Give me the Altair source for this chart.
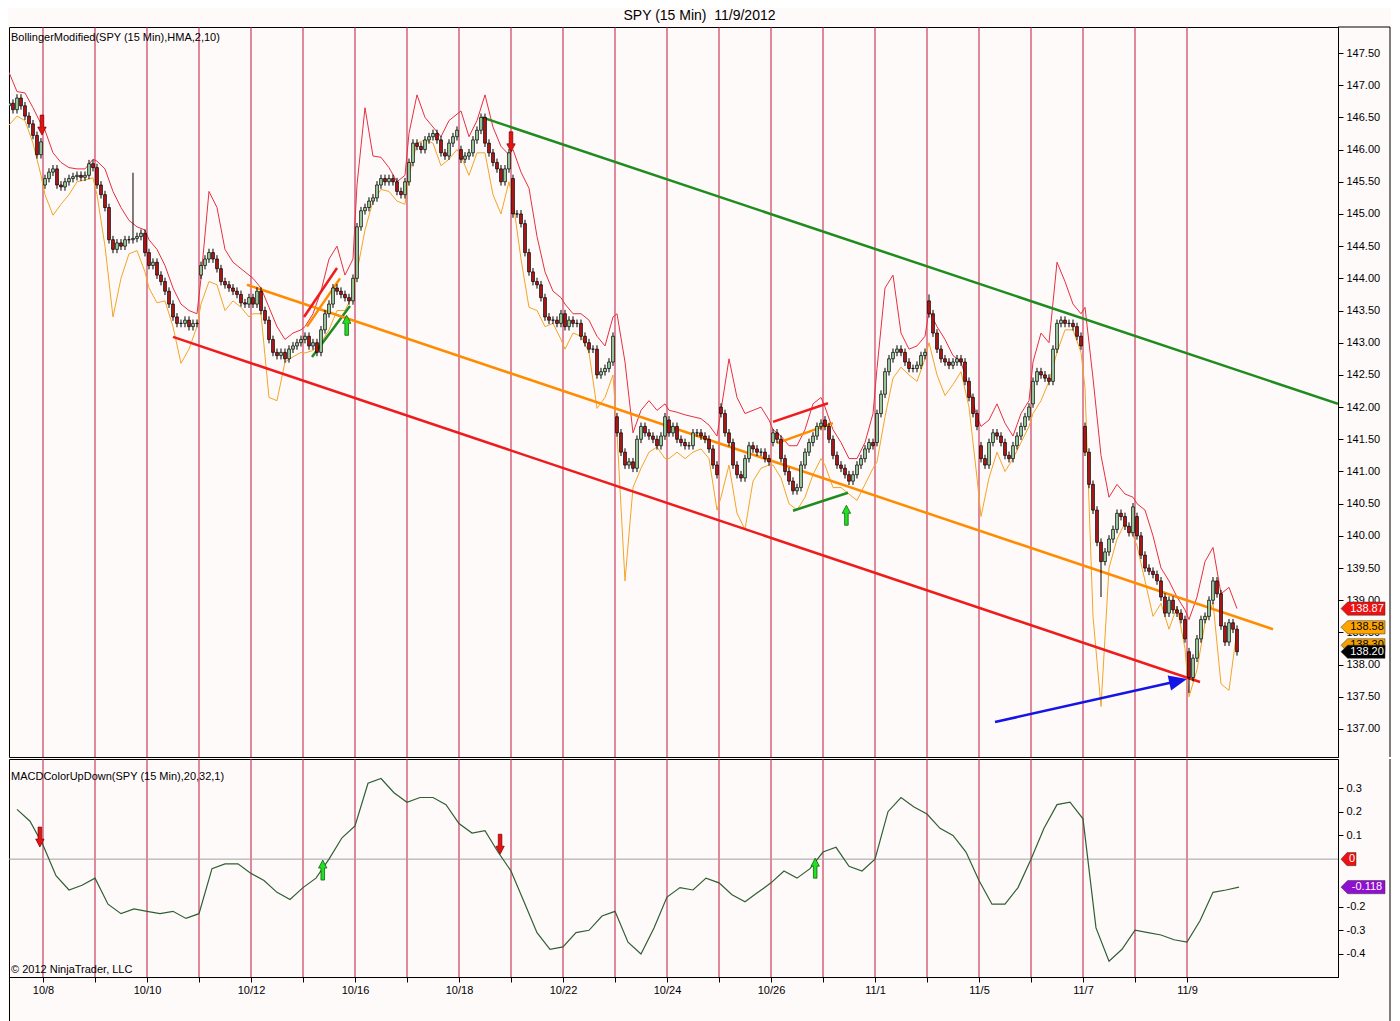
import altair as alt
import pandas as pd

FONT = "Liberation Sans"
BG = "#fffafa"
DAYLINE = "#c0183c"

# ---------------- data ----------------
days = ["10/8", "10/9", "10/10", "10/11", "10/12", "10/15", "10/16", "10/17", "10/18", "10/19",
        "10/22", "10/23", "10/24", "10/25", "10/26", "10/31", "11/1", "11/2", "11/5", "11/6",
        "11/7", "11/8", "11/9"]

# open of the first 30-min candle of each session (10/5 partial session first)
session_open = [146.68, 145.45, 145.72, 144.4, 144.05, 143.7, 143.05, 144.0, 145.5, 146.0,
                145.55, 143.45, 141.85, 141.8, 142.0, 141.45, 141.8, 141.45, 143.65, 141.4,
                142.05, 141.7, 140.3, 138.2]

# closes, 13 per session (10/5 partial: 9)
close_w1 = [146.72, 146.62, 146.80, 146.68, 146.52, 146.40, 146.22, 145.92, 146.12,
            145.55, 145.65, 145.7, 145.45, 145.42, 145.5, 145.55, 145.58, 145.6, 145.57, 145.6, 145.78, 145.72,
            145.45, 145.3, 145.1, 144.6, 144.45, 144.55, 144.5, 144.6, 144.6, 144.62, 144.65, 144.7, 144.4,
            144.2, 144.25, 144.05, 143.95, 143.8, 143.6, 143.4, 143.3, 143.3, 143.35, 143.25, 143.3, 143.3,
            144.2, 144.3, 144.4, 144.3, 144.15, 143.95, 143.9, 143.85, 143.8, 143.75, 143.62, 143.6, 143.7,
            143.6, 143.8, 143.5, 143.35, 143.05, 142.85, 142.8, 142.85, 142.75, 142.9, 142.95, 143.0, 143.05]
close_w2 = [143.1, 142.95, 143.0, 142.85, 143.2, 143.45, 143.6, 143.85, 143.8, 143.75, 143.7, 143.65, 144.0,
            144.8, 145.05, 145.1, 145.2, 145.25, 145.45, 145.55, 145.5, 145.55, 145.5, 145.35, 145.3, 145.5,
            145.8, 146.1, 146.05, 146.0, 146.15, 146.2, 146.25, 146.15, 145.95, 145.9, 146.1, 146.2, 146.3,
            145.85, 145.9, 145.95, 146.15, 146.3, 146.5, 146.1, 145.95, 145.8, 145.7, 145.5, 145.7, 145.95,
            145.0, 145.0, 144.85, 144.4, 144.1, 143.95, 143.9, 143.7, 143.4, 143.35, 143.35, 143.3, 143.45]
close_w3 = [143.25, 143.35, 143.3, 143.3, 143.1, 143.0, 142.9, 142.9, 142.5, 142.55, 142.6, 142.7, 143.1,
            141.6, 141.3, 141.1, 141.15, 141.05, 141.5, 141.7, 141.6, 141.55, 141.5, 141.4, 141.55, 141.85,
            141.6, 141.7, 141.5, 141.45, 141.4, 141.4, 141.6, 141.6, 141.55, 141.5, 141.35, 141.1, 140.95,
            141.9, 141.6, 141.45, 141.1, 140.95, 140.9, 141.2, 141.4, 141.35, 141.3, 141.3, 141.2, 141.15,
            141.6, 141.5, 141.2, 141.0, 140.85, 140.7, 140.75, 141.1, 141.3, 141.45, 141.55, 141.7, 141.75]
close_w4 = [141.7, 141.5, 141.25, 141.1, 141.05, 140.95, 140.85, 140.95, 141.1, 141.2, 141.35, 141.45, 141.4,
            141.9, 142.2, 142.55, 142.75, 142.85, 142.9, 142.85, 142.7, 142.6, 142.6, 142.65, 142.8, 142.85,
            143.45, 143.15, 142.9, 142.75, 142.7, 142.65, 142.7, 142.75, 142.7, 142.4, 142.15, 141.9, 141.7]
close_w5 = [141.2, 141.1, 141.45, 141.6, 141.55, 141.45, 141.25, 141.2, 141.4, 141.55, 141.7, 141.85, 142.0,
            142.4, 142.55, 142.5, 142.45, 142.4, 142.9, 143.3, 143.35, 143.3, 143.3, 143.25, 143.1, 142.95,
            141.3, 140.8, 140.4, 139.9, 139.6, 139.75, 139.95, 140.1, 140.35, 140.3, 140.15, 140.05, 140.45,
            140.0, 139.7, 139.5, 139.45, 139.4, 139.3, 139.05, 138.8, 139.0, 138.85, 138.8, 138.7, 138.4,
            137.8, 138.1, 138.4, 138.7, 138.75, 139.0, 139.3, 139.1, 138.6, 138.35, 138.65, 138.55, 138.2]

# long wicks: (session, candle) -> price
wick_high = {("10/9", 9): 145.64, ("11/2", 0): 143.75}
wick_low = {("11/7", 4): 139.05, ("11/9", 0): 137.56}

# Bollinger bands, every second candle
upper_band = [147.2, 146.9, 146.88, 146.65, 146.4,
              146.3, 145.95, 145.8, 145.72, 145.7, 145.7, 145.85,
              145.82, 145.7, 145.35, 145.1, 144.9, 144.8, 144.75,
              144.6, 144.45, 144.2, 143.85, 143.6, 143.5, 143.45,
              144.0, 145.35, 145.1, 144.45, 144.25, 144.15, 144.05,
              144.0, 143.85, 143.55, 143.25, 143.05, 143.15, 143.2,
              143.25, 143.45, 143.8, 144.3, 144.5, 144.05, 144.3,
              145.45, 146.65, 145.9, 145.88, 145.72, 145.5, 145.6,
              146.25, 146.85, 146.5, 146.35, 146.2, 146.45, 146.55,
              146.6, 146.2, 146.45, 146.85, 146.35, 146.05, 145.92,
              146.0, 145.65, 145.4, 144.65, 144.1, 143.8, 143.7,
              143.6, 143.45, 143.45, 143.35, 143.1, 142.95, 143.4,
              143.45, 142.7, 141.6, 141.95, 142.1, 141.95, 142.05,
              141.95, 141.92, 141.88, 141.85, 141.82, 141.72, 141.55,
              141.95, 142.75, 142.15, 141.9, 141.95, 142.0, 141.8,
              141.65, 141.55, 141.4, 141.4, 141.65, 142.05, 142.15,
              142.0, 141.65, 141.45, 141.2, 141.2, 141.45, 141.9,
              142.6, 143.85, 144.05, 143.15, 142.9, 142.95, 143.1,
              143.5, 143.25, 143.05, 142.8, 142.7, 142.3, 141.85,
              141.7, 141.8, 142.05, 141.75, 141.55, 141.9, 142.1,
              142.7, 143.15, 143.0, 144.25, 143.95, 143.6, 143.45,
              143.55, 142.45, 141.25, 140.6, 140.8, 140.65, 140.6,
              140.5, 140.4, 140.0, 139.5, 139.3, 139.05, 138.85,
              138.7, 139.05, 139.6, 139.82, 139.1, 139.2, 138.87]
lower_band = [146.38, 146.52, 146.45, 146.1, 145.6,
              145.3, 144.98, 145.15, 145.3, 145.5, 145.53, 145.56,
              145.3, 144.5, 143.4, 144.0, 144.38, 144.43, 144.1,
              143.85, 143.62, 143.65, 143.25, 142.68, 142.9, 143.25,
              143.6, 143.95, 143.9, 143.5, 143.65, 143.55, 143.4,
              143.45, 143.45, 142.15, 142.1, 142.7, 142.78, 142.85,
              142.84, 142.88, 143.0, 143.2, 143.5, 143.5, 143.75,
              144.1, 144.75, 145.2, 145.38, 145.35, 145.2, 145.15,
              145.6, 146.1, 146.15, 146.1, 145.75, 145.85, 146.0,
              145.9, 145.6, 145.95, 145.95, 145.3, 145.0, 145.5,
              145.2, 144.3, 143.55, 143.5, 143.25, 143.3, 143.05,
              142.9, 143.15, 143.1, 142.85, 141.98, 142.15, 142.5,
              141.6, 139.3, 140.75, 141.05, 141.3, 141.38, 141.2,
              141.2, 141.3, 141.2, 141.3, 141.35, 141.2, 140.4,
              140.6, 141.1, 140.35, 140.1, 140.85, 141.05, 141.1,
              141.1, 140.9, 140.5, 140.4, 140.6, 140.95, 141.2,
              141.1, 140.75, 140.75, 140.65, 140.55, 140.8, 141.05,
              141.15, 141.85, 142.45, 142.62, 142.5, 142.4, 142.75,
              143.0, 142.5, 142.18, 142.35, 142.55, 142.0, 140.9,
              140.3, 140.9, 141.3, 141.0, 141.2, 141.45, 141.7,
              141.9, 142.1, 142.4, 142.85, 143.2, 143.2, 142.85,
              142.3, 138.75, 137.35, 139.5, 139.95, 140.2, 140.0,
              139.85, 139.3, 138.75, 138.95, 138.55, 138.9, 138.25,
              137.5, 137.92, 138.65, 138.96, 137.7, 137.6, 138.55]

# MACD, every quarter session starting half a session before 10/8
macd = [0.21, 0.16, 0.06, -0.07, -0.13, -0.11, -0.08, -0.19, -0.23, -0.21,
        -0.22, -0.23, -0.22, -0.25, -0.23, -0.04, -0.02, -0.02, -0.06, -0.09,
        -0.14, -0.17, -0.12, -0.08, 0.0, 0.09, 0.14, 0.32, 0.34, 0.28,
        0.24, 0.26, 0.26, 0.23, 0.15, 0.11, 0.12, 0.03, -0.05, -0.18,
        -0.31, -0.38, -0.37, -0.31, -0.30, -0.24, -0.22, -0.35, -0.40, -0.29,
        -0.16, -0.12, -0.13, -0.08, -0.10, -0.15, -0.18, -0.14, -0.10, -0.05,
        -0.08, -0.04, 0.03, 0.05, -0.03, -0.05, 0.0, 0.20, 0.26, 0.22,
        0.19, 0.13, 0.10, 0.03, -0.09, -0.19, -0.19, -0.12, 0.0, 0.13,
        0.23, 0.24, 0.17, -0.29, -0.43, -0.38, -0.30, -0.31, -0.32, -0.34,
        -0.35, -0.26, -0.14, -0.13, -0.118]

# drawn trend lines (session units, price)
trend_color = ["green", "orange", "red", "blue", "red", "orange", "green", "red", "orange", "green"]
trend_x0 = [8.442, 3.923, 2.5, 18.308, 5.019, 5.077, 5.173, 14.038, 14.115, 14.423]
trend_y0 = [146.5, 143.9, 143.09, 137.108, 143.4, 143.25, 142.78, 141.77, 141.44, 140.39]
trend_x1 = [24.904, 23.654, 22.25, 21.83, 5.654, 5.712, 5.904, 15.096, 15.192, 15.481]
trend_y1 = [142.05, 138.55, 137.73, 137.745, 144.16, 144.0, 143.57, 142.06, 141.75, 140.67]
arrowhead_x = [21.83]
arrowhead_y = [137.745]

# signal arrows
sig_day = [-0.02, 9.0, 5.84, 15.45]
sig_price = [146.38, 146.12, 143.27, 140.32]
sig_kind = ["sell", "sell", "buy", "buy"]
msig_day = [-0.06, 8.79, 5.38, 14.85]
msig_val = [0.093, 0.063, -0.046, -0.038]
msig_kind = ["sell", "sell", "buy", "buy"]

# right-axis value tags
tag_value = [138.87, 138.58, 138.30, 138.20]
tag_label = ["138.87", "138.58", "138.30", "138.20"]
tag_kind = ["upper", "lower", "mid", "last"]
mtag_value = [0.0, -0.118]
mtag_label = ["0", "-0.118"]
mtag_kind = ["zero", "macd"]

# ---------------- build tables ----------------
HW = 0.36 / 13
labels_s = ["10/5"] + days
sessions = [(-1, list(range(4, 13)))] + [(d, list(range(13))) for d in range(len(days))]
closes = close_w1 + close_w2 + close_w3 + close_w4 + close_w5
rows, bpos = [], []
i = 0
for s, (d, ks) in enumerate(sessions):
    for j, k in enumerate(ks):
        t = d + (k + 0.5) / 13
        c = closes[i]
        o = session_open[s] if j == 0 else closes[i - 1]
        hi = max(o, c) + 0.06
        lo = min(o, c) - 0.06
        hi = wick_high.get((labels_s[s], k), hi)
        lo = wick_low.get((labels_s[s], k), lo)
        rows.append(dict(t=t, xa=t - HW, xb=t + HW, o=o, c=c, hi=hi, lo=lo,
                         dir="up" if c >= o else "down"))
        if k % 2 == 0:
            bpos.append(t)
        i += 1
candles = pd.DataFrame(rows)
bands = pd.DataFrame({"t": bpos * 2, "v": upper_band + lower_band,
                      "band": ["upper"] * len(bpos) + ["lower"] * len(bpos)})
macd_df = pd.DataFrame({"t": [-0.5 + 0.25 * n for n in range(len(macd))], "v": macd})
dayline_df = pd.DataFrame({"t": list(range(len(days)))})
trend_df = pd.DataFrame({"c": trend_color, "x0": trend_x0, "y0": trend_y0, "x1": trend_x1, "y1": trend_y1})
head_df = pd.DataFrame({"t": arrowhead_x, "v": arrowhead_y})
sig_df = pd.DataFrame({"t": sig_day, "v": sig_price, "k": sig_kind})
msig_df = pd.DataFrame({"t": msig_day, "v": msig_val, "k": msig_kind})
tag_df = pd.DataFrame({"v": tag_value, "label": tag_label, "k": tag_kind})
mtag_df = pd.DataFrame({"v": mtag_value, "label": mtag_label, "k": mtag_kind})

# ---------------- scales / axes ----------------
W, HP, HM = 1329, 730, 218
RX = W + 52          # outer right frame line
xs = alt.Scale(domain=[-0.6538, 24.9038], nice=False, zero=False)
ys = alt.Scale(domain=[136.565, 147.904], nice=False, zero=False)
ms = alt.Scale(domain=[-0.497, 0.4223], nice=False, zero=False)

axis_common = dict(title=None, grid=False, tickSize=5, tickColor="black", domainColor="black",
                   labelColor="black", labelFont=FONT, labelFontSize=11, labelOverlap=False,
                   labelFlush=False, labelBound=False, zindex=0)
price_axis = alt.Axis(orient="right", values=[137 + 0.5 * n for n in range(22)], format=".2f",
                      labelPadding=3, **axis_common)
macd_axis = alt.Axis(orient="right", values=[0.3, 0.2, 0.1, -0.2, -0.3, -0.4],
                     labelExpr="replace(format(datum.value, '.1f'), '\u2212', '-')",
                     labelPadding=3, **axis_common)
xlab = [d if n % 2 == 0 else "" for n, d in enumerate(days)]
x_axis = alt.Axis(values=list(range(len(days))), labelPadding=2,
                  labelExpr="[" + ",".join("'%s'" % s for s in xlab) + "][datum.value]",
                  **axis_common)


def XP(f):
    return alt.X(f, type="quantitative", scale=xs, axis=None)


def XM(f):
    return alt.X(f, type="quantitative", scale=xs, axis=x_axis)


def YP(f):
    return alt.Y(f, type="quantitative", scale=ys, axis=price_axis)


def YM(f):
    return alt.Y(f, type="quantitative", scale=ms, axis=macd_axis)


DOWN = "M -0.18 -1 L 0.18 -1 L 0.18 0.2 L 0.42 0.2 L 0 1 L -0.42 0.2 L -0.18 0.2 Z"
UP = "M -0.18 1 L 0.18 1 L 0.18 -0.2 L 0.42 -0.2 L 0 -1 L -0.42 -0.2 L -0.18 -0.2 Z"
TAG = "M -1 0 L -0.7 -0.3 L 1 -0.3 L 1 0.3 L -0.7 0.3 Z"
ZTAG = "M -1 0 L -0.2 -0.87 L 1 -0.87 L 1 0.87 L -0.2 0.87 Z"
HEAD = "M 1 0 L -1 -0.85 L -1 0.85 Z"

TAG_KINDS = ["upper", "lower", "mid", "last", "zero", "macd"]
TAG_FILLS = ["#ee1111", "#ffa500", "#f5a000", "#000000", "#ee1111", "#9010d0"]
TAG_TEXTS = ["white", "black", "black", "white", "white", "white"]


def sig_layer(df, Xf, Yf):
    layers = []
    for kind, shape, fill, stroke in [("sell", DOWN, "#e81212", "#700000"), ("buy", UP, "#22e022", "#005000")]:
        layers.append(alt.Chart(df).transform_filter("datum.k == '%s'" % kind).mark_point(
            shape=shape, filled=True, size=400, fill=fill, stroke=stroke, strokeWidth=0.7, opacity=1
        ).encode(x=Xf("t"), y=Yf("v")))
    return layers


def tag_layers(df, Yf, kind, shape, size, xc, xt):
    idx = TAG_KINDS.index(kind)
    base = alt.Chart(df).transform_filter("datum.k == '%s'" % kind)
    return [base.mark_point(shape=shape, filled=True, size=size, fill=TAG_FILLS[idx], stroke="#333333",
                            strokeWidth=0.5, opacity=1).encode(x=alt.value(xc), y=Yf("v")),
            base.mark_text(font=FONT, fontSize=11, align="center", baseline="middle",
                           color=TAG_TEXTS[idx]).encode(x=alt.value(xt), y=Yf("v"), text="label:N")]


one = alt.Data(values=[{}])

# ---------------- price panel ----------------
p_days = alt.Chart(dayline_df).mark_rule(color=DAYLINE, strokeWidth=1).encode(x=XP("t"))
p_up = alt.Chart(bands).transform_filter("datum.band == 'upper'").mark_line(
    strokeWidth=1, color="#e43040", clip=True).encode(x=XP("t"), y=YP("v"))
p_lo = alt.Chart(bands).transform_filter("datum.band == 'lower'").mark_line(
    strokeWidth=1, color="#f2a526", clip=True).encode(x=XP("t"), y=YP("v"))
p_wick = alt.Chart(candles).mark_rule(color="black", strokeWidth=1, clip=True).encode(
    x=XP("t"), y=YP("lo"), y2="hi")
p_body_up = alt.Chart(candles).transform_filter("datum.dir == 'up'").mark_rect(
    stroke="black", strokeWidth=0.7, fill="#9ccc9c", clip=True).encode(x=XP("xa"), x2="xb", y=YP("o"), y2="c")
p_body_dn = alt.Chart(candles).transform_filter("datum.dir == 'down'").mark_rect(
    stroke="black", strokeWidth=0.7, fill="#b01616", clip=True).encode(x=XP("xa"), x2="xb", y=YP("o"), y2="c")
TREND = {"green": "#1e8c1e", "orange": "#ff8c00", "red": "#ee1c1c", "blue": "#1414e6"}
p_trends = [alt.Chart(trend_df).transform_filter("datum.c == '%s'" % name).mark_rule(
    strokeWidth=2.5, color=col, clip=True).encode(x=XP("x0"), x2="x1", y=YP("y0"), y2="y1")
    for name, col in TREND.items()]
p_head = alt.Chart(head_df).mark_point(shape=HEAD, filled=True, size=324, angle=347.4, color="#1414e6",
                                       opacity=1).encode(x=XP("t"), y=YP("v"))
p_title = alt.Chart(alt.Data(values=[{"s": "BollingerModified(SPY (15 Min),HMA,2,10)"}])).mark_text(
    align="left", baseline="middle", font=FONT, fontSize=11, color="black").encode(
    x=alt.value(2), y=alt.value(11), text="s:N")
p_tags = (tag_layers(tag_df, YP, "upper", TAG, 1936, 1354, 1358)
          + tag_layers(tag_df, YP, "lower", TAG, 1936, 1354, 1358)
          + tag_layers(tag_df, YP, "mid", TAG, 1936, 1354, 1358)
          + tag_layers(tag_df, YP, "last", TAG, 1936, 1354, 1358))
p_frame_top = alt.Chart(one).mark_rule(color="black", strokeWidth=1).encode(
    x=alt.value(W), x2=alt.value(RX), y=alt.value(0))
p_frame_right = alt.Chart(one).mark_rule(color="black", strokeWidth=1).encode(
    x=alt.value(RX), y=alt.value(0), y2=alt.value(HP))

price = alt.layer(p_days, p_up, p_lo, *p_trends, p_wick, p_body_up, p_body_dn, p_head,
                  *sig_layer(sig_df, XP, YP), p_title, *p_tags, p_frame_top, p_frame_right
                  ).properties(width=W, height=HP)

# ---------------- MACD panel ----------------
m_days = alt.Chart(dayline_df).mark_rule(color=DAYLINE, strokeWidth=1).encode(x=XM("t"))
m_zero = alt.Chart(pd.DataFrame({"v": [0.0]})).mark_rule(color="#a0a0a0", strokeWidth=1).encode(y=YM("v"))
m_line = alt.Chart(macd_df).mark_line(color="#2f5f34", strokeWidth=1.2).encode(x=XM("t"), y=YM("v"))
m_title = alt.Chart(alt.Data(values=[{"s": "MACDColorUpDown(SPY (15 Min),20,32,1)"}])).mark_text(
    align="left", baseline="middle", font=FONT, fontSize=11, color="black").encode(
    x=alt.value(2), y=alt.value(18), text="s:N")
m_copy = alt.Chart(alt.Data(values=[{"s": "\u00a9 2012 NinjaTrader, LLC"}])).mark_text(
    align="left", baseline="middle", font=FONT, fontSize=11, color="black").encode(
    x=alt.value(2), y=alt.value(211), text="s:N")
m_tags = (tag_layers(mtag_df, YM, "zero", ZTAG, 225, 1339.5, 1343)
          + tag_layers(mtag_df, YM, "macd", TAG, 1936, 1354, 1358))
m_frame_right = alt.Chart(one).mark_rule(color="black", strokeWidth=1).encode(
    x=alt.value(RX), y=alt.value(0), y2=alt.value(HM + 45))
m_frame_bottom = alt.Chart(one).mark_rule(color="black", strokeWidth=1).encode(
    x=alt.value(0.5), x2=alt.value(RX), y=alt.value(HM + 45))
m_frame_left = alt.Chart(one).mark_rule(color="black", strokeWidth=1).encode(
    x=alt.value(0.5), y=alt.value(HM), y2=alt.value(HM + 45))

macd_panel = alt.layer(m_days, m_zero, m_line, *sig_layer(msig_df, XM, YM), m_title, m_copy, *m_tags,
                       m_frame_right, m_frame_bottom, m_frame_left).properties(width=W, height=HM)

chart = alt.vconcat(
    price, macd_panel, spacing=0,
    title=alt.TitleParams("SPY (15 Min)\u00a0 11/9/2012", font=FONT, fontSize=14, fontWeight="normal",
                          color="black", anchor="middle", offset=3),
).properties(padding={"left": 0, "top": 1, "right": 0, "bottom": 0},
             background=BG).configure_view(stroke="black", strokeWidth=1, fill=BG)

chart.save("out.html", embed_options={"renderer": "svg", "actions": False})
